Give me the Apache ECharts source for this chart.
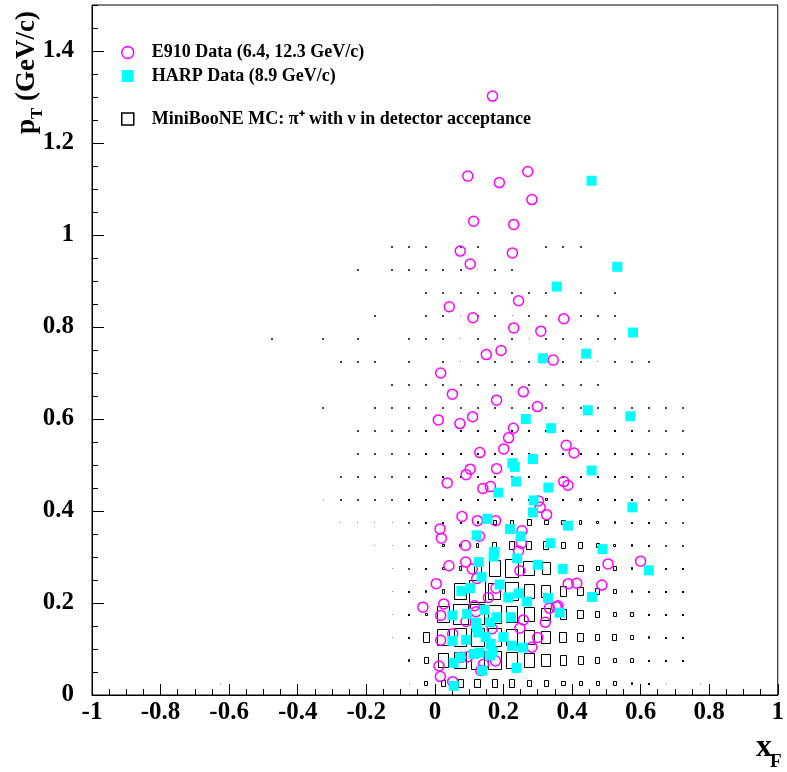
<!DOCTYPE html>
<html><head><meta charset="utf-8">
<script src="https://cdn.jsdelivr.net/npm/echarts@6/dist/echarts.min.js"></script>
<style>html,body{margin:0;padding:0;background:#fff}#c{width:787px;height:772px}</style>
</head><body><div id="c"></div>
<script>
// ---------- data ----------
const e910Name = 'E910 Data (6.4, 12.3 GeV/c)';
const harpName = 'HARP Data (8.9 GeV/c)';
const mcName = 'MiniBooNE MC: \u03c0\u207a with \u03bd in detector acceptance';

const e910X = [0.168,0.271,0.096,0.188,0.283,0.113,0.230,0.074,0.226,0.103,0.244,0.042,0.111,0.376,0.230,0.309,0.193,0.150,0.345,0.017,
  0.051,0.258,0.180,0.299,0.010,0.073,0.110,0.229,0.215,0.201,0.131,0.383,0.406,0.103,0.091,0.180,0.036,0.140,0.162,0.376,
  0.388,0.302,0.307,0.326,0.079,0.124,0.177,0.015,0.254,0.019,0.130,0.252,0.089,0.244,0.041,0.090,0.109,0.248,0.122,0.004,
  0.178,0.156,0.389,0.414,0.026,-0.035,0.017,0.115,0.120,0.091,0.258,0.248,0.167,0.334,0.354,0.322,0.300,0.283,0.052,0.017,
  0.077,0.096,0.177,0.142,0.134,0.012,0.016,0.052,0.487,0.505,0.600,0.359];
const e910Y = [1.302,1.138,1.128,1.114,1.077,1.030,1.023,0.965,0.961,0.937,0.857,0.844,0.820,0.818,0.798,0.791,0.749,0.740,0.728,0.700,
  0.654,0.659,0.641,0.627,0.598,0.590,0.605,0.580,0.559,0.535,0.527,0.543,0.526,0.491,0.479,0.492,0.461,0.449,0.453,0.464,
  0.456,0.422,0.408,0.392,0.388,0.379,0.379,0.361,0.357,0.341,0.345,0.330,0.325,0.313,0.281,0.289,0.274,0.270,0.253,0.242,
  0.232,0.212,0.242,0.243,0.198,0.191,0.173,0.194,0.181,0.160,0.163,0.145,0.144,0.189,0.192,0.158,0.125,0.104,0.133,0.119,
  0.082,0.083,0.074,0.067,0.053,0.063,0.040,0.029,0.239,0.285,0.291,0.194];

const harpX = [0.457,0.532,0.356,0.578,0.441,0.315,0.446,0.570,0.265,0.339,0.286,0.226,0.233,0.457,0.237,0.331,0.185,0.288,0.286,0.576,
  0.153,0.219,0.388,0.122,0.250,0.337,0.173,0.171,0.128,0.240,0.300,0.373,0.136,0.189,0.103,0.077,0.214,0.245,0.269,0.330,
  0.145,0.094,0.051,0.180,0.222,0.120,0.161,0.122,0.126,0.051,0.091,0.148,0.200,0.163,0.225,0.256,0.168,0.130,0.113,0.074,
  0.161,0.055,0.138,0.238,0.055,0.489,0.624,0.458,0.364];
const harpY = [1.118,0.931,0.888,0.788,0.742,0.732,0.619,0.606,0.600,0.580,0.513,0.504,0.496,0.488,0.464,0.451,0.440,0.423,0.397,0.408,
  0.383,0.361,0.368,0.347,0.345,0.330,0.311,0.301,0.289,0.297,0.283,0.274,0.257,0.240,0.232,0.226,0.212,0.221,0.203,0.211,
  0.185,0.176,0.173,0.169,0.169,0.157,0.158,0.147,0.136,0.118,0.120,0.126,0.126,0.111,0.107,0.103,0.094,0.092,0.089,0.082,
  0.086,0.070,0.053,0.059,0.020,0.317,0.271,0.213,0.179];

// MC 2D histogram: bin centres and relative box size (% of a full bin)
const mcBinWidth = 0.05, mcBinHeight = 0.05;
const mcXCenters = [-0.675,-0.625,-0.575,-0.525,-0.475,-0.425,-0.375,-0.325,-0.275,-0.225,-0.175,-0.125,-0.075,-0.025,0.025,
  0.075,0.125,0.175,0.225,0.275,0.325,0.375,0.425,0.475,0.525,0.575,0.625,0.675,0.725,0.775];
const mcYCenters = [0.025,0.075,0.125,0.175,0.225,0.275,0.325,0.375,0.425,0.475,0.525,0.575,0.625,0.675,0.725,0.775,0.825,0.875,0.925,0.975];
const mcBoxSize = [
  [0,4,0,0,0,0,0,0,0,0,0,0,4,24,30,35,38,38,35,31,27,26,23,22,19,17,9,4,0,4],
  [0,0,0,0,0,0,0,0,0,0,0,0,14,32,66,77,84,80,70,64,57,46,35,30,25,20,10,9,7,0],
  [0,0,0,0,0,0,0,0,0,0,0,4,9,44,72,79,82,82,72,64,57,47,40,32,30,24,15,10,6,0],
  [0,0,0,0,0,0,0,0,0,0,0,4,8,16,72,94,87,79,75,64,57,46,37,27,22,20,11,7,6,0],
  [0,0,0,0,0,0,0,0,0,0,0,4,6,13,22,72,100,77,79,64,58,46,37,27,19,15,9,6,6,0],
  [0,0,0,0,0,0,0,0,0,0,0,4,5,7,16,22,47,74,82,67,56,42,34,25,20,16,8,7,6,0],
  [0,0,0,0,0,0,0,0,0,0,4,4,5,7,16,13,19,30,38,38,37,34,29,24,17,13,7,5,5,0],
  [0,0,0,0,0,0,0,0,4,4,4,4,5,7,7,7,13,20,22,29,26,25,22,17,13,9,6,5,5,0],
  [0,0,0,0,0,0,0,4,5,5,5,5,6,6,6,6,6,8,13,10,14,8,13,8,7,6,5,5,5,0],
  [0,0,0,0,0,0,0,0,5,5,5,5,5,6,6,6,6,7,7,7,7,7,7,6,6,6,5,5,5,0],
  [0,0,0,0,0,0,0,0,0,5,5,5,5,6,6,6,6,6,6,6,6,6,6,6,6,6,5,5,5,0],
  [0,0,0,0,0,0,0,0,0,5,5,5,5,6,6,6,6,6,6,6,6,6,6,6,6,6,5,5,5,0],
  [0,0,0,0,0,0,0,5,0,0,5,5,5,5,5,5,5,5,5,5,5,5,5,5,5,5,5,5,5,0],
  [0,0,0,0,0,0,0,0,0,0,0,5,5,5,5,5,5,5,5,5,5,5,5,5,0,0,0,0,0,0],
  [0,0,0,0,0,0,0,0,5,5,5,0,5,0,5,4,5,5,5,5,5,5,5,4,5,5,5,0,0,0],
  [0,0,0,0,5,0,0,5,0,5,0,0,5,5,5,4,5,5,5,4,5,5,5,5,5,0,0,0,0,0],
  [0,0,0,0,0,0,0,0,0,0,5,0,0,5,5,4,5,5,4,5,5,0,5,5,5,0,0,0,0,0],
  [0,0,0,0,0,0,0,0,0,0,0,0,0,5,5,5,5,5,5,5,5,0,5,0,5,0,0,0,0,0],
  [0,0,0,0,0,0,0,0,0,5,0,5,5,5,5,5,4,5,5,0,0,0,0,0,5,0,0,0,0,0],
  [0,0,0,0,0,0,0,0,0,0,0,5,5,5,0,5,5,0,0,0,5,5,5,0,0,0,0,0,0,0]
];

// axis ranges / ticks
const xMin = -1, xMax = 1, xMajor = 0.2;
const yMin = 0, yMax = 1.5, yMajor = 0.2, yMinor = 0.05;

// ---------- chart ----------
const FONT = 'Liberation Serif';
const e910Data = e910X.map((x, i) => [x, e910Y[i]]);
const harpData = harpX.map((x, i) => [x, harpY[i]]);
const mcData = [];
mcBoxSize.forEach((row, j) => row.forEach((v, k) => { if (v > 0) mcData.push([mcXCenters[k], mcYCenters[j], v]); }));

const chart = echarts.init(document.getElementById('c'), null, {renderer: 'canvas'});
const labelStyle = {fontFamily: FONT, fontWeight: 'bold', fontSize: 25, color: '#000'};
const legendText = {fontFamily: FONT, fontWeight: 'bold', fontSize: 18, lineHeight: 20, color: '#000', padding: [0, 0, 0, 13]};
chart.setOption({
  animation: false,
  backgroundColor: '#fff',
  grid: {left: 92, top: 5, width: 691, height: 690, show: true, borderColor: '#000', borderWidth: 1, backgroundColor: 'transparent'},
  xAxis: [
    {type: 'value', min: xMin, max: xMax, interval: xMajor, position: 'bottom',
     axisLine: {show: true, onZero: false, lineStyle: {color: '#000', width: 1}},
     axisTick: {show: true, inside: true, length: 11, lineStyle: {color: '#000'}},
     minorTick: {show: true, splitNumber: 4, length: 6, lineStyle: {color: '#000'}},
     splitLine: {show: false},
     axisLabel: Object.assign({margin: 5}, labelStyle)}
  ],
  yAxis: [
    {type: 'value', min: yMin, max: yMax, interval: yMajor, position: 'left',
     axisLine: {show: true, onZero: false, lineStyle: {color: '#000', width: 1}},
     axisTick: {show: true, inside: true, length: 12, lineStyle: {color: '#000'}},
     splitLine: {show: false},
     axisLabel: Object.assign({margin: 18, showMaxLabel: false,
       formatter: v => (Math.abs(v - yMax) < 1e-9 ? '' : String(+v.toFixed(2)))}, labelStyle)},
    {type: 'value', min: yMin, max: yMax, interval: yMinor, position: 'left', offset: 0,
     axisLine: {show: false, onZero: false},
     axisTick: {show: true, inside: true, length: 6, lineStyle: {color: '#000'}},
     splitLine: {show: false},
     axisLabel: {show: false}}
  ],
  legend: [
    {orient: 'vertical', left: 121, top: 42.5, padding: 0, itemWidth: 12, itemHeight: 12, itemGap: 3.5,
     textStyle: legendText,
     data: [
       {name: e910Name, icon: 'circle', itemStyle: {color: 'transparent', borderColor: '#ff00ff', borderWidth: 1.5}},
       {name: harpName, icon: 'rect', itemStyle: {color: '#00ffff', borderWidth: 0}}
     ]},
    {orient: 'vertical', left: 121, top: 109, padding: 0, itemWidth: 12, itemHeight: 12,
     textStyle: legendText,
     data: [
       {name: mcName, icon: 'rect', itemStyle: {color: 'transparent', borderColor: '#000', borderWidth: 1.5}}
     ]}
  ],
  graphic: [
    {type: 'group', x: 36, y: 134, rotation: Math.PI / 2, children: [
      {type: 'text', x: 0, y: -8.6, style: {text: 'p', font: 'bold 27px "' + FONT + '"', fill: '#000', verticalAlign: 'middle', align: 'left'}},
      {type: 'text', x: 15, y: 1.5, style: {text: 'T', font: 'bold 17px "' + FONT + '"', fill: '#000', verticalAlign: 'middle', align: 'left'}},
      {type: 'text', x: 33, y: -8.6, style: {text: '(GeV/c)', font: 'bold 27px "' + FONT + '"', fill: '#000', verticalAlign: 'middle', align: 'left'}}
    ]},
    {type: 'text', x: 756, y: 748, style: {text: 'x', font: 'bold 32px "' + FONT + '"', fill: '#000', verticalAlign: 'middle', align: 'left'}},
    {type: 'text', x: 770, y: 762, style: {text: 'F', font: 'bold 19px "' + FONT + '"', fill: '#000', verticalAlign: 'middle', align: 'left'}}
  ],
  series: [
    {name: mcName, type: 'custom', xAxisIndex: 0, yAxisIndex: 0, z: 2, data: mcData,
     encode: {x: 0, y: 1},
     renderItem: function (params, api) {
       const c = api.coord([api.value(0), api.value(1)]);
       const s = api.size([mcBinWidth, mcBinHeight]);
       const f = api.value(2) / 100;
       const w = s[0] * f, h = s[1] * f;
       if (w < 2) {
         const d = f < 0.045 ? 1 : 2;
         return {type: 'rect', shape: {x: Math.round(c[0] - d / 2), y: Math.round(c[1] - d / 2), width: d, height: d},
                 style: {fill: f < 0.045 ? '#888' : (f < 0.055 ? '#444' : '#000')}};
       }
       const x0 = Math.round(c[0] - w / 2) + 0.5, x1 = Math.round(c[0] + w / 2) - 0.5;
       const y0 = Math.round(c[1] - h / 2) + 0.5, y1 = Math.round(c[1] + h / 2) - 0.5;
       return {type: 'rect', shape: {x: x0, y: y0, width: Math.max(x1 - x0, 1), height: Math.max(y1 - y0, 1)},
               style: {fill: 'none', stroke: '#000', lineWidth: 1}};
     }},
    {name: e910Name, type: 'scatter', xAxisIndex: 0, yAxisIndex: 0, z: 3, data: e910Data,
     symbol: 'circle', symbolSize: 10,
     itemStyle: {color: 'transparent', borderColor: '#ff00ff', borderWidth: 1.5, opacity: 1}},
    {name: harpName, type: 'scatter', xAxisIndex: 0, yAxisIndex: 0, z: 4, data: harpData,
     symbol: 'rect', symbolSize: 10,
     itemStyle: {color: '#00ffff', opacity: 1}}
  ]
});
</script></body></html>
